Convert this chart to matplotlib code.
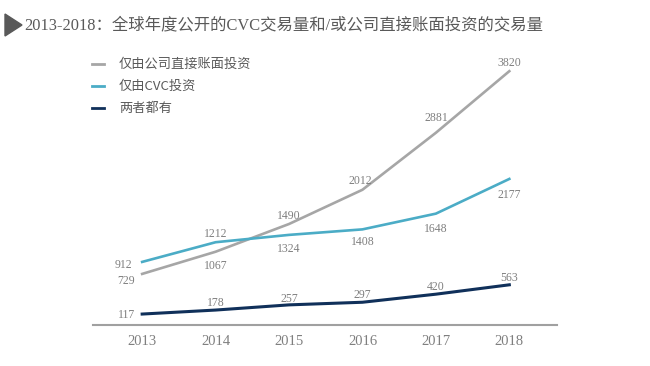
import matplotlib
matplotlib.use("Agg")
import matplotlib.pyplot as plt
from matplotlib.patches import Polygon

years = [2013, 2014, 2015, 2016, 2017, 2018]
corp_only = [729, 1067, 1490, 2012, 2881, 3820]
cvc_only = [912, 1212, 1324, 1408, 1648, 2177]
both = [117, 178, 257, 297, 420, 563]

series_names = ["仅由公司直接账面投资", "仅由CVC投资", "两者都有"]
title = "2013-2018：全球年度公开的CVC交易量和/或公司直接账面投资的交易量"

# label offsets in pixels (dx, dy) per point
corp_off = [(-16, -7), (0, -14), (0, 8), (-2, 9), (0, 15), (0, 8)]
cvc_off = [(-19, -3), (0, 8), (0, -14), (0, -13), (0, -15), (0, -16)]
both_off = [(-16, -1), (0, 7), (0, 6), (0, 7), (0, 7), (0, 7)]

serif = ["Liberation Serif", "Noto Sans CJK SC"]
cjk = ["Noto Sans CJK SC", "DejaVu Sans"]
label_col = "#7f7f7f"

fig = plt.figure(figsize=(6.5, 3.66), dpi=100)
ax = fig.add_axes([0.143, 0.112, 0.714, 0.724])

c_gray, c_teal, c_navy = "#a6a6a6", "#4bacc6", "#10305a"
ax.plot(years, corp_only, color=c_gray, lw=1.9)
ax.plot(years, cvc_only, color=c_teal, lw=1.9)
ax.plot(years, both, color=c_navy, lw=2.2)

for vals, offs in [(corp_only, corp_off), (cvc_only, cvc_off), (both, both_off)]:
    for x, v, (dx, dy) in zip(years, vals, offs):
        ax.annotate(str(v), (x, v), xytext=(dx, dy), textcoords="offset pixels",
                    ha="center", va="center", fontsize=8.5, color=label_col,
                    family=serif)

ax.set_xlim(2012.33, 2018.65)
ax.set_ylim(-50, 3990)
ax.set_xticks(years)
ax.set_xticklabels([str(y) for y in years], family=serif, fontsize=10.5, color=label_col)
ax.tick_params(axis="x", length=0, pad=7)
ax.set_yticks([])
for s in ["top", "left", "right"]:
    ax.spines[s].set_visible(False)
ax.spines["bottom"].set_color("#a0a0a0")
ax.spines["bottom"].set_linewidth(1.5)

# legend drawn by hand in figure coords
for i, (name, col) in enumerate(zip(series_names, [c_gray, c_teal, c_navy])):
    yy = 1 - (64 + 22 * i) / 366
    fig.add_artist(plt.Line2D([92 / 650, 104 / 650], [yy, yy], color=col, lw=2))
    fig.text(119 / 650, yy, name, family=cjk, fontsize=9.5, color="#595959",
             va="center", ha="left")

# title with triangle marker
tri = Polygon([[5 / 650, 1 - 14 / 366], [5 / 650, 1 - 36 / 366], [22 / 650, 1 - 25 / 366]],
              closed=True, color="#595959", transform=fig.transFigure)
fig.add_artist(tri)
fig.text(24 / 650, 1 - 25 / 366, title, family=["Liberation Serif", "Noto Sans CJK SC"],
         fontsize=11.8, color="#595959", va="center", ha="left")

fig.savefig("out.png", dpi=100, facecolor="white")
